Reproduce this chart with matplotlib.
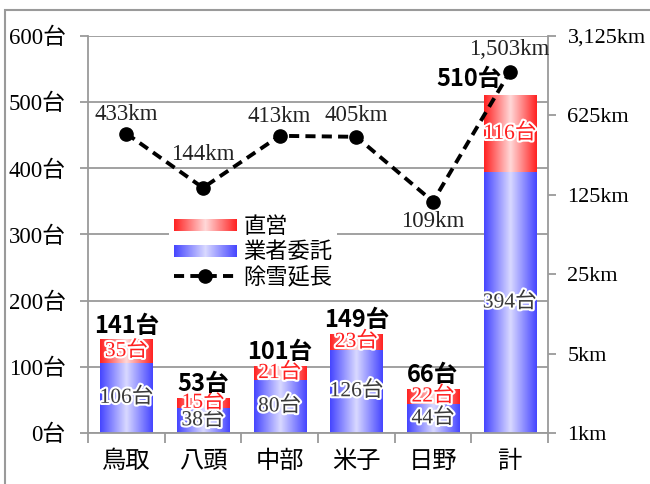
import numpy as np
import matplotlib
matplotlib.use("Agg")
import matplotlib.pyplot as plt
from matplotlib.colors import LinearSegmentedColormap, Normalize
from matplotlib.legend_handler import HandlerBase
from matplotlib.image import BboxImage
from matplotlib.transforms import Bbox, TransformedBbox
from matplotlib.patches import Rectangle
from matplotlib.ticker import FixedLocator, FuncFormatter, NullLocator
import matplotlib.patheffects as pe

# ---- data ----
regions = ["鳥取", "八頭", "中部", "米子", "日野", "計"]
direct = [35, 15, 21, 23, 22, 116]          # 直営
contract = [106, 38, 80, 126, 44, 394]      # 業者委託
totals = [141, 53, 101, 149, 66, 510]
length_km = [433, 144, 413, 405, 109, 1503]  # 除雪延長
left_ticks = [0, 100, 200, 300, 400, 500, 600]
right_ticks = [1, 5, 25, 125, 625, 3125]

SERIF = ["Liberation Serif", "Noto Sans CJK JP"]
SANS = ["Noto Sans CJK JP", "DejaVu Sans"]
GRAY = "#9a9a9a"

red_cmap = LinearSegmentedColormap.from_list(
    "redgrad", [(1.0, 0.13, 0.13), (1.0, 0.85, 0.85), (1.0, 0.13, 0.13)])
blue_cmap = LinearSegmentedColormap.from_list(
    "bluegrad", [(0.27, 0.27, 1.0), (0.85, 0.85, 1.0), (0.27, 0.27, 1.0)])
grad = np.linspace(0, 1, 256)[None, :]


class GradientHandler(HandlerBase):
    def __init__(self, cmap):
        super().__init__()
        self.cmap = cmap

    def create_artists(self, legend, orig_handle, xdescent, ydescent,
                       width, height, fontsize, trans):
        bb = Bbox.from_bounds(-xdescent, -ydescent + height * 0.1,
                              width, height * 0.75)
        im = BboxImage(TransformedBbox(bb, trans), cmap=self.cmap,
                       norm=Normalize(0, 1), interpolation="bicubic")
        im.set_data(grad)
        return [im]


fig = plt.figure(figsize=(6.5, 4.84), dpi=100)
ax = fig.add_axes([88 / 650, 51 / 484, 460 / 650, 397 / 484])

x = np.arange(len(regions))
width = 0.68
bars_c = ax.bar(x, contract, width=width, color="none", edgecolor="none")
bars_d = ax.bar(x, direct, width=width, bottom=contract, color="none",
                edgecolor="none")

for bars, cmap in ((bars_c, blue_cmap), (bars_d, red_cmap)):
    for r in bars:
        x0, y0, w, h = r.get_x(), r.get_y(), r.get_width(), r.get_height()
        ax.imshow(grad, cmap=cmap, norm=Normalize(0, 1), aspect="auto",
                  extent=[x0, x0 + w, y0, y0 + h], interpolation="bicubic",
                  zorder=2)

ax.set_xlim(-0.5, len(regions) - 0.5)
ax.set_ylim(left_ticks[0], left_ticks[-1])

# segment labels
stroke = [pe.withStroke(linewidth=3, foreground="white")]
for i in range(len(regions)):
    ax.text(x[i], contract[i] / 2, f"{contract[i]}台", ha="center",
            va="center", fontsize=15.5, family=SERIF, color="#3a3a3a",
            path_effects=stroke, zorder=4)
    ax.text(x[i], contract[i] + direct[i] / 2, f"{direct[i]}台",
            ha="center", va="center", fontsize=15.5, family=SERIF,
            color="#ff2020", path_effects=stroke, zorder=4)

# totals above stacks
total_offsets = [(0, 1.5), (0, 1.5), (0, 1.5), (0, 1.5), (0, 1.5), (-29, 3)]
for i, t in enumerate(totals):
    ax.annotate(f"{t}台", (x[i], t), xytext=total_offsets[i],
                textcoords="offset points", ha="center", va="bottom",
                fontsize=17, fontweight="bold", family=SANS, color="black",
                zorder=4)

# axes styling
ax.yaxis.set_major_locator(FixedLocator(left_ticks))
ax.yaxis.set_major_formatter(FuncFormatter(lambda v, p: f"{int(v)}台"))
ax.yaxis.grid(True, color=GRAY, lw=1.3)
ax.set_axisbelow(True)
ax.set_xticks(x)
ax.set_xticklabels(regions, fontsize=17.5, family=SANS)
ax.set_xticks(np.arange(-0.5, len(regions)), minor=True)
ax.tick_params(axis="x", which="major", length=0, pad=11)
ax.tick_params(axis="x", which="minor", length=7, width=1.3, color=GRAY,
               direction="out")
ax.tick_params(axis="y", length=6, width=1.3, color=GRAY, direction="out",
               pad=10)
for lab in ax.get_yticklabels():
    lab.set_family(SERIF)
    lab.set_fontsize(16.5)
for s in ("top", "right"):
    ax.spines[s].set_visible(False)
for s in ("left", "bottom"):
    ax.spines[s].set_color(GRAY)
    ax.spines[s].set_linewidth(1.3)

# snow removal length on log axis
ax2 = ax.twinx()
ax2.set_yscale("log")
ax2.set_ylim(right_ticks[0], right_ticks[-1])
ax2.yaxis.set_major_locator(FixedLocator(right_ticks))
ax2.yaxis.set_minor_locator(NullLocator())
ax2.yaxis.set_major_formatter(FuncFormatter(lambda v, p: f"{int(round(v)):,}km"))
ax2.tick_params(axis="y", length=6, width=1.3, color=GRAY, direction="out",
                pad=8)
for lab in ax2.get_yticklabels():
    lab.set_family(SERIF)
    lab.set_fontsize(16)
for s in ("top", "left", "bottom"):
    ax2.spines[s].set_visible(False)
ax2.spines["right"].set_color(GRAY)
ax2.spines["right"].set_linewidth(1.3)

line, = ax2.plot(x, length_km, color="black", lw=2.8, ls=(0, (2.6, 1.6)),
                 marker="o", ms=9.5, zorder=5)

km_offsets = [14, 24, 14, 15, -14, 16.5]
for i, v in enumerate(length_km):
    ax2.annotate(f"{v:,}km", (x[i], v), xytext=(0, km_offsets[i]),
                 textcoords="offset points", ha="center", va="center",
                 fontsize=16.5, family=SERIF, color="#222222", zorder=6)

red_h = Rectangle((0, 0), 1, 1)
blue_h = Rectangle((0, 0), 1, 1)
leg = ax2.legend([red_h, blue_h, line], ["直営", "業者委託", "除雪延長"],
                 handler_map={red_h: GradientHandler(red_cmap),
                              blue_h: GradientHandler(blue_cmap)},
                 loc="upper left", bbox_to_anchor=(158 / 650, 1 - 199 / 484),
                 bbox_transform=fig.transFigure, prop={"family": SANS,
                                                       "size": 16},
                 frameon=True, facecolor="white", edgecolor="none",
                 framealpha=1, fancybox=False, handlelength=2.8,
                 handletextpad=0.35, labelspacing=0.12, borderpad=0.2)
leg.set_zorder(3)

# outer chart border
fig.patches.append(Rectangle((5 / 650, -0.5), 2, 0.5 + 1 - 10 / 484,
                             transform=fig.transFigure, fill=False,
                             edgecolor=GRAY, lw=1.5))

fig.savefig("out.png", dpi=100)
